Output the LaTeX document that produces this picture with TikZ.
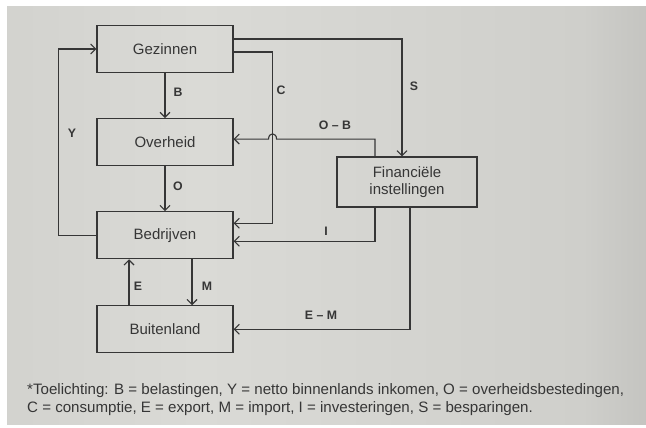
\documentclass[tikz,border=0pt]{standalone}
\usepackage{fontspec}
\setmainfont{Liberation Sans}
\usepackage{tikz}
\usetikzlibrary{arrows.meta,positioning,calc}
\definecolor{Ink}{HTML}{363636}
\definecolor{PaperLeft}{HTML}{C6C6C2}
\definecolor{PaperMid}{HTML}{DADAD6}
\definecolor{PaperMidB}{HTML}{CFCFCB}
\definecolor{PaperRight}{HTML}{8E8E8C}
\pgfdeclarehorizontalshading{paper}{100bp}{color(0bp)=(PaperLeft); color(40bp)=(PaperMid); color(70bp)=(PaperMidB); color(100bp)=(PaperRight)}

\begin{document}
\begin{tikzpicture}[
  x=1pt,y=-1pt,
  every node/.style={text=Ink},
  box/.style={draw=Ink,line width=1.1pt,minimum width=136pt,minimum height=47pt,font=\fontsize{15}{17}\selectfont,align=center},
  lbl/.style={font=\fontsize{12.3}{14}\selectfont\bfseries,inner sep=1pt},
  arr/.style={-{Straight Barb[length=5pt,width=10pt]},line width=1.1pt,Ink}
]
\useasboundingbox (0,0) rectangle (646,428);
\fill[white] (0,0) rectangle (646,428);
\shade[shading=paper] (7,7) rectangle (646,424);
\node[box] (gezinnen) at (165,49) {Gezinnen};
\node[box,below=45pt of gezinnen] (overheid) {Overheid};
\node[box,below=45pt of overheid] (bedrijven) {Bedrijven};
\node[box,below=46pt of bedrijven] (buitenland) {Buitenland};
\node[box,minimum width=140pt,minimum height=50pt] (financieel) at (407,182) {Financiële\\instellingen};
\coordinate (obIn) at ([yshift=3pt]overheid.east);
% stromen
\draw[arr] (bedrijven.west) -- ++(-38,0) |- (gezinnen.west);
\draw[arr] (gezinnen) -- (overheid);
\draw[arr] (overheid) -- (bedrijven);
\draw[arr] ([yshift=-3pt]gezinnen.east) -- ++(39,0) |- ([yshift=12pt]bedrijven.east);
\draw[arr] ([yshift=10pt]gezinnen.east) -| ([xshift=-5pt]financieel.north);
\draw[arr] ([xshift=-32pt]financieel.north) |- ([xshift=43pt]obIn) .. controls +(0,-7) and +(0,-7) .. ([xshift=35pt]obIn) -- (obIn);
\draw[arr] ([xshift=-32pt]financieel.south) |- ([yshift=-6pt]bedrijven.east);
\draw[arr] ([xshift=3pt]financieel.south) |- (buitenland.east);
\draw[arr] ([xshift=-36pt]buitenland.north) -- ([xshift=-36pt]bedrijven.south);
\draw[arr] ([xshift=27pt]bedrijven.south) -- ([xshift=27pt]buitenland.north);
% labels
\node[lbl] (lY) at (72,133) {Y};
\node[lbl] (lB) at (178,92) {B};
\node[lbl] (lO) at (178,186) {O};
\node[lbl] (lC) at (281,90) {C};
\node[lbl] (lS) at (414,86) {S};
\node[lbl] (lOB) at (335,125) {O -- B};
\node[lbl] (lI) at (326,231) {I};
\node[lbl] (lEM) at (321,315) {E -- M};
\node[lbl] (lE) at (138,286) {E};
\node[lbl] (lM) at (207,286) {M};
\node[anchor=west,align=left,inner sep=0pt,font=\fontsize{15.1}{18}\selectfont] (toelichting) at (27,400)
  {*Toelichting: B = belastingen, Y = netto binnenlands inkomen, O = overheidsbestedingen,\\
   C = consumptie, E = export, M = import, I = investeringen, S = besparingen.};
\end{tikzpicture}
\end{document}
